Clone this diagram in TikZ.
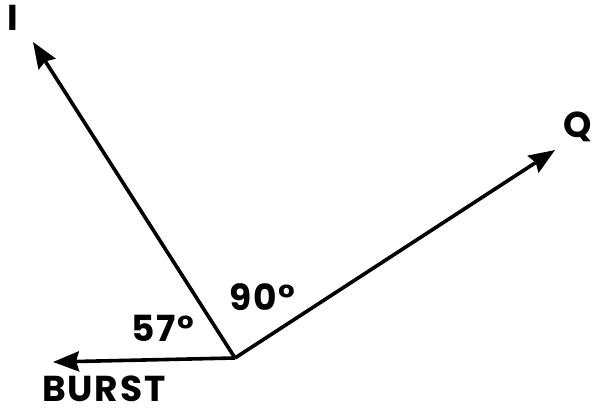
\documentclass[tikz,border=0pt]{standalone}
\usepackage{fontspec}
\setmainfont{Poppins}[LetterSpace=5]
\usetikzlibrary{arrows.meta}
\begin{document}
\begin{tikzpicture}[x=1pt,y=-1pt,
  vec/.style={line width=3.6pt,-{Stealth[length=26pt,width=20pt,inset=3pt]}},
  lbl/.style={font=\fontsize{36}{36}\selectfont\bfseries, inner sep=0pt, anchor=base west}]
\useasboundingbox (0,0) rectangle (592,411);
\coordinate (o) at (235,358);
\coordinate (itip) at (33,42);
\coordinate (qtip) at (555,150);
\coordinate (btip) at (53,362);
\draw[vec] (o) -- (itip);
\draw[vec] (o) -- (qtip);
\draw[vec] (o) -- (btip);
\node[lbl] (ilab) at (7,31) {I};
\node[lbl] (qlab) at (563,138) {Q};
\node[lbl] (blab) at (42,402) {BURST};
\node[lbl] (a57) at (131,342) {57°};
\node[lbl] (a90) at (229,311) {90°};
\end{tikzpicture}
\end{document}
